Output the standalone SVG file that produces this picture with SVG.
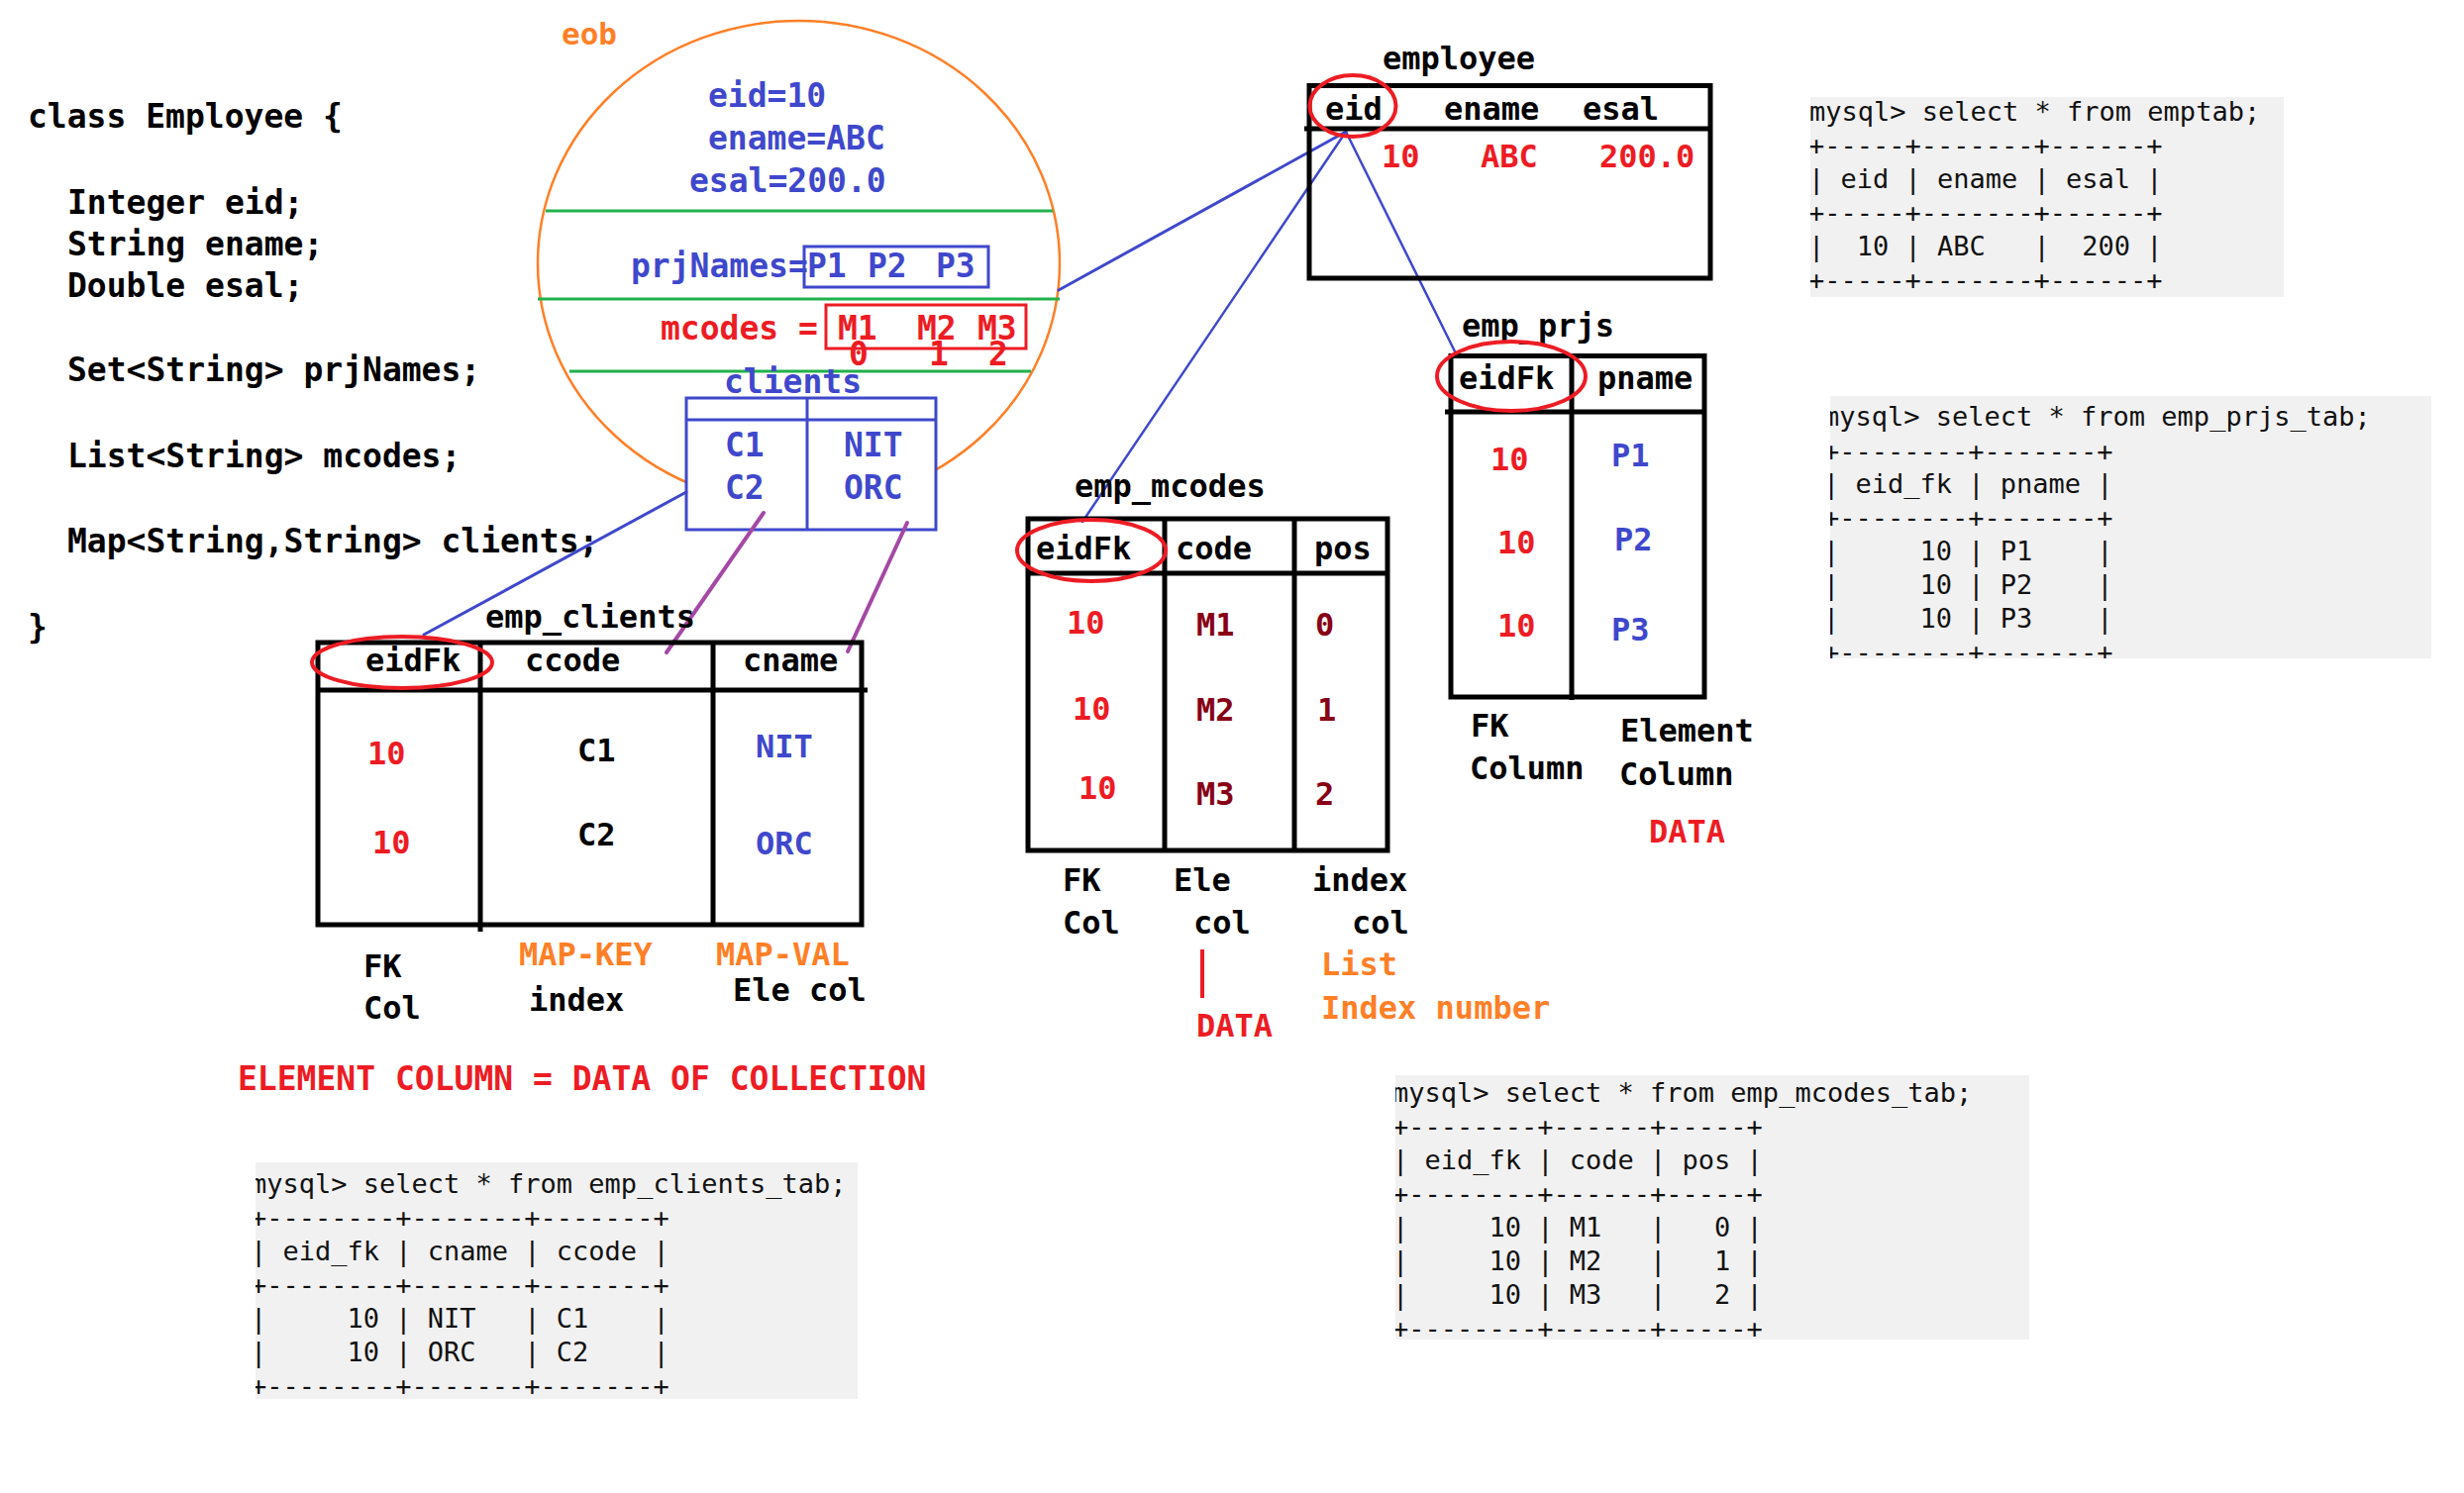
<svg xmlns="http://www.w3.org/2000/svg" width="2488" height="1508" viewBox="0 0 2488 1508">
<style>
text{font-family:"DejaVu Sans Mono","Liberation Mono",monospace;font-weight:bold;font-size:32px;fill:#000}
.code{font-size:33px}
.blue{fill:#3f48cc}
.red{fill:#ed1c24}
.dred{fill:#880015}
.org{fill:#ff7f27}
.pre{white-space:pre}
.sql{font-weight:normal;font-size:27px;fill:#111;white-space:pre}
.tbl{fill:none;stroke:#000;stroke-width:5}
.ring{fill:none;stroke:#ed1c24;stroke-width:4}
.grn{stroke:#22b14c;stroke-width:3}
.gray{fill:#f1f1f1}
</style>
<defs>
<clipPath id="c1"><rect x="1828" y="98" width="478" height="202"/></clipPath>
<clipPath id="c2"><rect x="1848" y="400" width="607" height="265"/></clipPath>
<clipPath id="c3"><rect x="258" y="1174" width="608" height="239"/></clipPath>
<clipPath id="c4"><rect x="1409" y="1086" width="640" height="267"/></clipPath>
</defs>
<rect width="2488" height="1508" fill="#fff"/>

<g id="class-code">
<text class="code" x="28" y="129">class Employee {</text>
<text class="code" x="68" y="216">Integer eid;</text>
<text class="code" x="68" y="258">String ename;</text>
<text class="code" x="68" y="300">Double esal;</text>
<text class="code" x="68" y="385">Set&lt;String&gt; prjNames;</text>
<text class="code" x="68" y="472">List&lt;String&gt; mcodes;</text>
<text class="code" x="68" y="558">Map&lt;String,String&gt; clients;</text>
<text class="code" x="28" y="645">}</text>
</g>

<g id="eob">
<ellipse cx="806.5" cy="266" rx="263.5" ry="245" fill="#fff" stroke="#ff7f27" stroke-width="2.5"/>
<text class="org" x="567" y="45" style="font-size:31px">eob</text>
<text class="code blue" x="715" y="108">eid=10</text>
<text class="code blue" x="715" y="151">ename=ABC</text>
<text class="code blue" x="696" y="194">esal=200.0</text>
<line class="grn" x1="551" y1="213" x2="1063" y2="213"/>
<text class="code blue" x="637" y="280">prjNames=</text>
<rect x="812" y="249" width="186" height="41" fill="none" stroke="#3f48cc" stroke-width="3"/>
<text class="code blue pre" xml:space="preserve"><tspan x="815" y="280">P1 </tspan><tspan x="876" y="280">P2  </tspan><tspan x="945" y="280">P3</tspan></text>
<line class="grn" x1="543" y1="302" x2="1070" y2="302"/>
<text class="code red pre" x="667" y="343" xml:space="preserve">mcodes =</text>
<rect x="834" y="308" width="202" height="44" fill="none" stroke="#ed1c24" stroke-width="3"/>
<text class="code red pre" xml:space="preserve"><tspan x="846" y="343">M1  </tspan><tspan x="926" y="343">M2 </tspan><tspan x="987" y="343">M3</tspan></text>
<text class="code red pre" xml:space="preserve"><tspan x="857" y="369">0 </tspan><tspan x="938" y="369">1 </tspan><tspan x="998" y="369">2</tspan></text>
<line class="grn" x1="575" y1="375" x2="1041" y2="375"/>
<text class="code blue" x="731" y="397">clients</text>
</g>

<g id="clients-map">
<rect x="693" y="402" width="252" height="133" fill="#fff" stroke="#3f48cc" stroke-width="3"/>
<line x1="693" y1="424" x2="945" y2="424" stroke="#3f48cc" stroke-width="3"/>
<line x1="815" y1="402" x2="815" y2="535" stroke="#3f48cc" stroke-width="3"/>
<text class="code blue" x="732" y="461">C1</text>
<text class="code blue" x="732" y="504">C2</text>
<text class="code blue" x="852" y="461">NIT</text>
<text class="code blue" x="852" y="504">ORC</text>
</g>

<g id="connectors" stroke-linecap="round">
<line x1="1069" y1="293" x2="1359" y2="133" stroke="#3f48cc" stroke-width="3"/>
<line x1="1359" y1="133" x2="1093" y2="527" stroke="#3f48cc" stroke-width="2.5"/>
<line x1="1359" y1="133" x2="1470" y2="357" stroke="#3f48cc" stroke-width="2.5"/>
<line x1="693" y1="497" x2="428" y2="641" stroke="#3f48cc" stroke-width="3"/>
<line x1="771" y1="518" x2="673" y2="659" stroke="#a349a4" stroke-width="4"/>
<line x1="916" y1="528" x2="856" y2="658" stroke="#a349a4" stroke-width="4"/>
</g>

<g id="employee">
<text x="1396" y="70">employee</text>
<rect class="tbl" x="1322" y="86.5" width="405" height="194.5"/>
<line x1="1317" y1="130" x2="1727" y2="130" stroke="#000" stroke-width="5"/>
<text x="1338" y="121">eid</text>
<text x="1458" y="121">ename</text>
<text x="1598" y="121">esal</text>
<text class="red" x="1395" y="169">10</text>
<text class="red" x="1495" y="169">ABC</text>
<text class="red" x="1615" y="169">200.0</text>
<ellipse class="ring" cx="1366" cy="107" rx="43.5" ry="31"/>
</g>

<g id="emp_prjs">
<text x="1476" y="340">emp_prjs</text>
<rect class="tbl" x="1465" y="359.5" width="256" height="344.5"/>
<line x1="1459" y1="416" x2="1721" y2="416" stroke="#000" stroke-width="5"/>
<line x1="1587" y1="359.5" x2="1587" y2="707" stroke="#000" stroke-width="5"/>
<text x="1473" y="393">eidFk</text>
<text x="1613" y="393">pname</text>
<ellipse class="ring" cx="1526" cy="380" rx="75" ry="35"/>
<text class="red" x="1505" y="475">10</text>
<text class="red" x="1512" y="559">10</text>
<text class="red" x="1512" y="643">10</text>
<text class="blue" x="1627" y="471">P1</text>
<text class="blue" x="1630" y="556">P2</text>
<text class="blue" x="1627" y="647">P3</text>
<text x="1485" y="744">FK</text>
<text x="1484" y="787">Column</text>
<text x="1636" y="749">Element</text>
<text x="1635" y="793">Column</text>
<text class="red" x="1665" y="851">DATA</text>
</g>

<g id="emp_mcodes">
<text x="1085" y="502">emp_mcodes</text>
<rect class="tbl" x="1038" y="524" width="363" height="335"/>
<line x1="1038" y1="579" x2="1401" y2="579" stroke="#000" stroke-width="5"/>
<line x1="1176" y1="524" x2="1176" y2="859" stroke="#000" stroke-width="5"/>
<line x1="1307" y1="524" x2="1307" y2="859" stroke="#000" stroke-width="5"/>
<text x="1046" y="565">eidFk</text>
<text x="1187" y="565">code</text>
<text x="1327" y="565">pos</text>
<ellipse class="ring" cx="1102" cy="556" rx="75" ry="31"/>
<text class="red" x="1077" y="640">10</text>
<text class="red" x="1083" y="727">10</text>
<text class="red" x="1089" y="807">10</text>
<text class="dred" x="1208" y="642">M1</text>
<text class="dred" x="1208" y="728">M2</text>
<text class="dred" x="1208" y="813">M3</text>
<text class="dred" x="1328" y="642">0</text>
<text class="dred" x="1330" y="728">1</text>
<text class="dred" x="1328" y="813">2</text>
<text x="1073" y="900">FK</text>
<text x="1073" y="943">Col</text>
<text x="1185" y="900">Ele</text>
<text x="1205" y="943">col</text>
<text x="1325" y="900">index</text>
<text x="1365" y="943">col</text>
<line x1="1214" y1="959" x2="1214" y2="1008" stroke="#ed1c24" stroke-width="4"/>
<text class="red" x="1208" y="1047">DATA</text>
<text class="org" x="1334" y="985">List</text>
<text class="org" x="1334" y="1029">Index number</text>
</g>

<g id="emp_clients">
<text x="490" y="634">emp_clients</text>
<rect class="tbl" x="321" y="649" width="549" height="285"/>
<line x1="321" y1="697" x2="876" y2="697" stroke="#000" stroke-width="5"/>
<line x1="485" y1="649" x2="485" y2="941" stroke="#000" stroke-width="5"/>
<line x1="720" y1="649" x2="720" y2="934" stroke="#000" stroke-width="5"/>
<text x="369" y="678">eidFk</text>
<text x="530" y="678">ccode</text>
<text x="750" y="678">cname</text>
<ellipse class="ring" cx="406" cy="669" rx="91" ry="26"/>
<text class="red" x="371" y="772">10</text>
<text class="red" x="376" y="862">10</text>
<text x="583" y="769">C1</text>
<text x="583" y="854">C2</text>
<text class="blue" x="763" y="765">NIT</text>
<text class="blue" x="763" y="863">ORC</text>
<text x="367" y="987">FK</text>
<text x="367" y="1029">Col</text>
<text class="org" x="524" y="975">MAP-KEY</text>
<text x="534" y="1021">index</text>
<text class="org" x="723" y="975">MAP-VAL</text>
<text x="740" y="1011">Ele col</text>
</g>

<g id="note">
<text class="code red" x="240" y="1101">ELEMENT COLUMN = DATA OF COLLECTION</text>
</g>

<g id="sql-emptab">
<rect class="gray" x="1828" y="98" width="478" height="202"/>
<g clip-path="url(#c1)">
<text class="sql" x="1827" y="122" xml:space="preserve">mysql&gt; select * from emptab;</text>
<text class="sql" x="1826" y="156" xml:space="preserve">+-----+-------+------+</text>
<text class="sql" x="1826" y="190" xml:space="preserve">| eid | ename | esal |</text>
<text class="sql" x="1826" y="224" xml:space="preserve">+-----+-------+------+</text>
<text class="sql" x="1826" y="258" xml:space="preserve">|  10 | ABC   |  200 |</text>
<text class="sql" x="1826" y="292" xml:space="preserve">+-----+-------+------+</text>
</g>
</g>

<g id="sql-emp_prjs_tab">
<rect class="gray" x="1848" y="400" width="607" height="265"/>
<g clip-path="url(#c2)">
<text class="sql" x="1841" y="430" xml:space="preserve">mysql&gt; select * from emp_prjs_tab;</text>
<text class="sql" x="1841" y="465" xml:space="preserve">+--------+-------+</text>
<text class="sql" x="1841" y="498" xml:space="preserve">| eid_fk | pname |</text>
<text class="sql" x="1841" y="532" xml:space="preserve">+--------+-------+</text>
<text class="sql" x="1841" y="566" xml:space="preserve">|     10 | P1    |</text>
<text class="sql" x="1841" y="600" xml:space="preserve">|     10 | P2    |</text>
<text class="sql" x="1841" y="634" xml:space="preserve">|     10 | P3    |</text>
<text class="sql" x="1841" y="668" xml:space="preserve">+--------+-------+</text>
</g>
</g>

<g id="sql-emp_clients_tab">
<rect class="gray" x="258" y="1174" width="608" height="239"/>
<g clip-path="url(#c3)">
<text class="sql" x="253" y="1205" xml:space="preserve">mysql&gt; select * from emp_clients_tab;</text>
<text class="sql" x="253" y="1239" xml:space="preserve">+--------+-------+-------+</text>
<text class="sql" x="253" y="1273" xml:space="preserve">| eid_fk | cname | ccode |</text>
<text class="sql" x="253" y="1307" xml:space="preserve">+--------+-------+-------+</text>
<text class="sql" x="253" y="1341" xml:space="preserve">|     10 | NIT   | C1    |</text>
<text class="sql" x="253" y="1375" xml:space="preserve">|     10 | ORC   | C2    |</text>
<text class="sql" x="253" y="1409" xml:space="preserve">+--------+-------+-------+</text>
</g>
</g>

<g id="sql-emp_mcodes_tab">
<rect class="gray" x="1409" y="1086" width="640" height="267"/>
<g clip-path="url(#c4)">
<text class="sql" x="1406" y="1113" xml:space="preserve">mysql&gt; select * from emp_mcodes_tab;</text>
<text class="sql" x="1406" y="1147" xml:space="preserve">+--------+------+-----+</text>
<text class="sql" x="1406" y="1181" xml:space="preserve">| eid_fk | code | pos |</text>
<text class="sql" x="1406" y="1215" xml:space="preserve">+--------+------+-----+</text>
<text class="sql" x="1406" y="1249" xml:space="preserve">|     10 | M1   |   0 |</text>
<text class="sql" x="1406" y="1283" xml:space="preserve">|     10 | M2   |   1 |</text>
<text class="sql" x="1406" y="1317" xml:space="preserve">|     10 | M3   |   2 |</text>
<text class="sql" x="1406" y="1351" xml:space="preserve">+--------+------+-----+</text>
</g>
</g>
</svg>
